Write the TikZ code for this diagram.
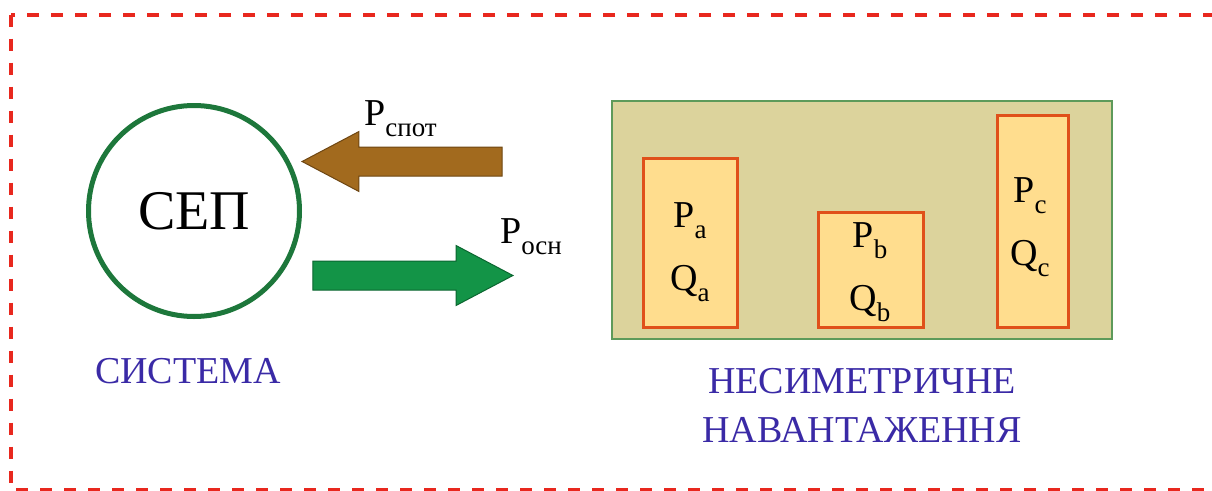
\documentclass[tikz,border=0pt]{standalone}
\usepackage{fontspec}
\setmainfont{Liberation Serif}
\usetikzlibrary{shapes.arrows}

\definecolor{framered}{HTML}{E8281E}
\definecolor{sepgreen}{HTML}{1D773B}
\definecolor{spotbrown}{HTML}{A26A1E}
\definecolor{spotedge}{HTML}{6E4612}
\definecolor{oscgreen}{HTML}{139447}
\definecolor{oscedge}{HTML}{0B6630}
\definecolor{loadtan}{HTML}{DCD39C}
\definecolor{loadedge}{HTML}{5E9A5A}
\definecolor{phasefill}{HTML}{FFDD8E}
\definecolor{phaseedge}{HTML}{E0501A}
\definecolor{capblue}{HTML}{3A2AA6}

\newcommand{\lowidx}[1]{\raisebox{-0.3em}{\fontsize{27}{27}\selectfont #1}}

\begin{document}
\begin{tikzpicture}
[
	                x = 1pt,
	                y = -1pt,
	    frame/.style = { draw=framered, line width=4pt, dash pattern=on 12pt off 12pt },
	   system/.style = { draw=sepgreen, circle, line width=5pt, minimum size=211pt, inner sep=0pt,
	                     font=\fontsize{56}{56}\selectfont },
	   flowarr/.style = { single arrow, anchor=tip, inner xsep=0pt, inner ysep=14pt, line width=1pt,
	                     minimum height=200pt,
	                     single arrow head extend=15.5pt, single arrow tip angle=55.6 },
	    loads/.style = { draw=loadedge, fill=loadtan, line width=2pt },
	    phase/.style = { draw=phaseedge, fill=phasefill, line width=3pt },
	  phasetxt/.style = { align=center, anchor=base, inner sep=0pt, font=\fontsize{38}{63}\selectfont },
	    power/.style = { anchor=base west, inner sep=0pt, font=\fontsize{38}{38}\selectfont },
	  caption/.style = { text=capblue, align=center, anchor=base, inner sep=0pt,
	                     font=\fontsize{38}{49}\selectfont }
]
	\useasboundingbox (0,0) rectangle (1212,490);

	% frame
	\draw [frame] (11,14.5) rectangle (1218,489.5);

	% system
	\node (sep) at (194,211) [system] {СЕП};
	\node (sys) at (188,383) [caption] {СИСТЕМА};

	% arrows
	\node (spot) at (301,161.5) [flowarr, shape border rotate=180, draw=spotedge, fill=spotbrown] {};
	\node (osn)  at (514,275.5) [flowarr, draw=oscedge, fill=oscgreen] {};
	\node (Pspot) at (364,125) [power] {P\lowidx{спот}};
	\node (Posn)  at (500,243) [power] {P\lowidx{осн}};

	% unbalanced load
	\draw [loads] (612,101) rectangle (1112,339);
	\node (ph a) at (690,242.5)   [phase, minimum width=94pt,  minimum height=169pt] {};
	\node (ph b) at (870.5,269.5) [phase, minimum width=105pt, minimum height=115pt] {};
	\node (ph c) at (1032.5,221)  [phase, minimum width=71pt,  minimum height=212pt] {};
	\node (ta) at (690,290)  [phasetxt] {P\lowidx{a}\\Q\lowidx{a}};
	\node (tb) at (870,310)  [phasetxt] {P\lowidx{b}\\Q\lowidx{b}};
	\node (tc) at (1030,265) [phasetxt] {P\lowidx{c}\\Q\lowidx{c}};
	\node (load) at (862,442) [caption] {НЕСИМЕТРИЧНЕ\\НАВАНТАЖЕННЯ};
\end{tikzpicture}
\end{document}
